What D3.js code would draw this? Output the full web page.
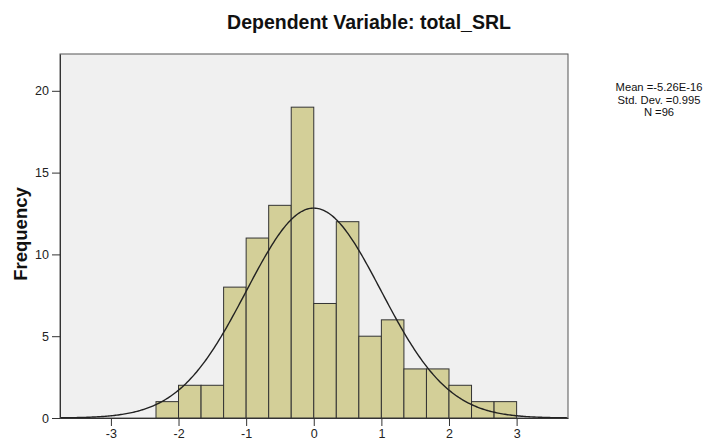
<!DOCTYPE html>
<html>
<head>
<meta charset="utf-8">
<script src="https://cdn.jsdelivr.net/npm/d3@7"></script>
<style>
  body { margin: 0; background: #fff; }
  svg text { font-family: Arial, "Liberation Sans", sans-serif; }
</style>
</head>
<body>
<svg id="chart" width="715" height="446"></svg>
<script>
// histogram bins (lower edge) and counts, bin width 1/3
const binStarts = [-2.3333, -2, -1.6667, -1.3333, -1, -0.6667, -0.3333, 0, 0.3333, 0.6667, 1, 1.3333, 1.6667, 2, 2.3333, 2.6667];
const counts    = [1, 2, 2, 8, 11, 13, 19, 7, 12, 5, 6, 3, 3, 2, 1, 1];
const binWidth = 1 / 3;

const xTicks = [-3, -2, -1, 0, 1, 2, 3];
const yTicks = [0, 5, 10, 15, 20];

// summary stats shown in legend
const meanVal = -5.26e-16;
const sdVal = 0.995;
const nVal = 96;
const legendLines = ["Mean =-5.26E-16", "Std. Dev. =0.995", "N =96"];

const svg = d3.select("#chart");

const plotL = 60, plotR = 568, plotT = 54, plotB = 418;

const x = d3.scaleLinear().domain([-3.753, 3.76]).range([plotL, plotR]);
const y = d3.scaleLinear().domain([0, 22.25]).range([plotB, plotT]);

// plot background
svg.append("rect")
  .attr("x", plotL).attr("y", plotT)
  .attr("width", plotR - plotL).attr("height", plotB - plotT)
  .attr("fill", "#f0f0f0")
  .attr("stroke", "#555").attr("stroke-width", 1);

// title
svg.append("text")
  .attr("x", 369).attr("y", 29)
  .attr("text-anchor", "middle")
  .attr("font-size", 19.5).attr("font-weight", "bold")
  .attr("fill", "#111")
  .text("Dependent Variable: total_SRL");

// bars
svg.append("g")
  .selectAll("rect")
  .data(counts)
  .join("rect")
  .attr("x", (d, i) => x(binStarts[i]))
  .attr("y", d => y(d))
  .attr("width", (d, i) => x(binStarts[i] + binWidth) - x(binStarts[i]))
  .attr("height", d => y(0) - y(d))
  .attr("fill", "#d3cf98")
  .attr("stroke", "#333")
  .attr("stroke-width", 1);

// normal curve from mean / sd / N
const pts = d3.range(x.domain()[0], x.domain()[1], 0.02).map(v => {
  const z = (v - meanVal) / sdVal;
  return [v, nVal * binWidth * Math.exp(-0.5 * z * z) / (sdVal * Math.sqrt(2 * Math.PI))];
});
svg.append("path")
  .datum(pts)
  .attr("fill", "none")
  .attr("stroke", "#222")
  .attr("stroke-width", 1.4)
  .attr("d", d3.line().x(d => x(d[0])).y(d => y(d[1])));

// axes
const xAxis = d3.axisBottom(x).tickValues(xTicks).tickSize(8).tickSizeOuter(0).tickPadding(3).tickFormat(d => String(d));
const gx = svg.append("g")
  .attr("transform", "translate(0," + plotB + ")")
  .call(xAxis);
gx.select(".domain").attr("stroke", "#333");
gx.selectAll(".tick line").attr("stroke", "#333");
gx.selectAll("text").attr("font-size", 12.5).attr("fill", "#222");

const yAxis = d3.axisLeft(y).tickValues(yTicks).tickSize(8).tickSizeOuter(0).tickPadding(3);
const gy = svg.append("g")
  .attr("transform", "translate(" + plotL + ",0)")
  .call(yAxis);
gy.select(".domain").attr("stroke", "#333");
gy.selectAll(".tick line").attr("stroke", "#333");
gy.selectAll("text").attr("font-size", 12.5).attr("fill", "#222");

// y label
svg.append("text")
  .attr("transform", "translate(27,234) rotate(-90)")
  .attr("text-anchor", "middle")
  .attr("font-size", 18.5).attr("font-weight", "bold")
  .attr("fill", "#111")
  .text("Frequency");

// legend
svg.append("g")
  .selectAll("text")
  .data(legendLines)
  .join("text")
  .attr("x", 659)
  .attr("y", (d, i) => 91 + i * 12.7)
  .attr("text-anchor", "middle")
  .attr("font-size", 11.2)
  .attr("fill", "#111")
  .text(d => d);
</script>
</body>
</html>
